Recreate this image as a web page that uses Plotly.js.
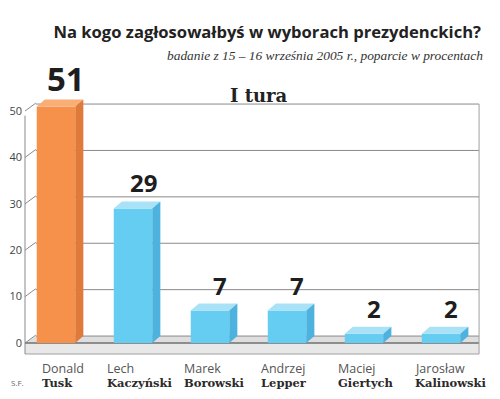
<!DOCTYPE html>
<html>
<head>
<meta charset="utf-8">
<script src="https://cdn.plot.ly/plotly-3.0.1.min.js"></script>
<style>html,body{margin:0;padding:0;background:#fff;}#chart{width:500px;height:399px;}</style>
</head>
<body>
<div id="chart"></div>
<script>
// ---- data ----
const firstNames = ["Donald", "Lech", "Marek", "Andrzej", "Maciej", "Jarosław"];
const lastNames = ["Tusk", "Kaczyński", "Borowski", "Lepper", "Giertych", "Kalinowski"];
const support = [51, 29, 7, 7, 2, 2];
const yTicks = [0, 10, 20, 30, 40, 50];
const titleText = "Na kogo zagłosowałbyś w wyborach prezydenckich?";
const subtitleText = "badanie z 15 – 16 września 2005 r., poparcie w procentach";
const roundText = "I tura";
const sourceText = "S.F.";

// ---- style ----
const barW = 0.5;          // bar width in category units
const dx = 0.105;          // depth offset (x, category units)
const dy = 1.5;            // depth offset (y, data units)
const axDx = 0.14, axDy = 1.7;
const xLeft = -0.4026, xRight = 5.494;
const floorBottom = -2.37;
const colors = {
  hi:   {front: "#F6914C", top: "#F9AE76", side: "#E07A3A"},
  base: {front: "#66CDF2", top: "#A9E1F6", side: "#4DB2DD"}
};
const xs = support.map((_, i) => i);
const pal = support.map((v, i) => v === Math.max(...support) ? colors.hi : colors.base);

const traces = [];
traces.push({
  type: "bar", x: xs, y: support, width: barW,
  marker: {color: pal.map(p => p.front), line: {width: 0}},
  hoverinfo: "skip", showlegend: false
});
xs.forEach((x, i) => {
  const v = support[i], l = x - barW / 2, r = x + barW / 2;
  traces.push({
    type: "scatter", mode: "lines", fill: "toself", fillcolor: pal[i].top,
    line: {width: 0, color: pal[i].top},
    x: [l, r, r + dx, l + dx, l], y: [v, v, v + dy, v + dy, v],
    hoverinfo: "skip", showlegend: false
  });
  traces.push({
    type: "scatter", mode: "lines", fill: "toself", fillcolor: pal[i].side,
    line: {width: 0, color: pal[i].side},
    x: [r, r + dx, r + dx, r, r], y: [0, dy, v + dy, v, 0],
    hoverinfo: "skip", showlegend: false
  });
});

const shapes = [];
// floor top
shapes.push({type: "path", layer: "below", xref: "x", yref: "y",
  path: `M${xLeft},0 L${xRight},0 L${xRight},${dy} L${xLeft + axDx},${dy} Z`,
  fillcolor: "#DEDEDE", line: {width: 0}});
// floor front
shapes.push({type: "rect", layer: "below", xref: "x", yref: "y",
  x0: xLeft, x1: xRight, y0: floorBottom, y1: 0,
  fillcolor: "#E8E8E8", line: {width: 0}});
// back gridlines + diagonal ticks
yTicks.forEach(t => {
  shapes.push({type: "line", layer: "below", xref: "x", yref: "y",
    x0: xLeft + axDx, x1: xRight, y0: t + dy, y1: t + dy,
    line: {color: "#8A8A8A", width: 1}});
  shapes.push({type: "line", layer: "below", xref: "x", yref: "y",
    x0: xLeft, x1: xLeft + axDx, y0: t, y1: t + axDy,
    line: {color: "#8A8A8A", width: 1}});
});
// floor front edge
shapes.push({type: "line", layer: "below", xref: "x", yref: "y",
  x0: xLeft, x1: xRight, y0: 0, y1: 0, line: {color: "#707070", width: 1.5}});
// floor bottom edge
shapes.push({type: "line", layer: "below", xref: "x", yref: "y",
  x0: xLeft, x1: xRight, y0: floorBottom, y1: floorBottom, line: {color: "#A0A0A0", width: 1}});
// front axis line
shapes.push({type: "line", layer: "below", xref: "x", yref: "y",
  x0: xLeft, x1: xLeft, y0: floorBottom, y1: Math.max(...yTicks) - 1,
  line: {color: "#8A8A8A", width: 1}});
// right edge
shapes.push({type: "line", layer: "below", xref: "x", yref: "y",
  x0: xRight, x1: xRight, y0: floorBottom, y1: Math.max(...yTicks) + dy,
  line: {color: "#A0A0A0", width: 1}});

const annotations = [];
support.forEach((v, i) => {
  const big = v === Math.max(...support);
  annotations.push({
    xref: "x", yref: "y", x: xs[i] + 0.13, y: v + dy, yanchor: "bottom", xanchor: "center",
    text: String(v), showarrow: false, yshift: big ? -4 : 0,
    font: {family: "Open Sans, Lato, sans-serif", size: big ? 33 : 24, color: "#1E1E1E", weight: 700}
  });
  const lx = Math.max(xs[i] - 0.37, xLeft + 0.2);
  annotations.push({
    xref: "x", yref: "paper", x: lx, y: 0, xanchor: "left", yanchor: "middle",
    yshift: -12.5, text: firstNames[i], showarrow: false,
    font: {family: "Open Sans, sans-serif", size: 12.5, color: "#555"}
  });
  annotations.push({
    xref: "x", yref: "paper", x: lx, y: 0, xanchor: "left", yanchor: "middle",
    yshift: -26.5, text: "<b>" + lastNames[i] + "</b>", showarrow: false,
    font: {family: "DejaVu Serif, serif", size: 11.5, color: "#2A2A2A"}
  });
});
annotations.push({
  xref: "paper", yref: "paper", x: 1, xanchor: "right", xshift: 4, y: 1, yanchor: "middle", yshift: 15,
  text: "<i>" + subtitleText + "</i>", showarrow: false,
  font: {family: "Liberation Serif, serif", size: 13.4, color: "#333"}
});
annotations.push({
  xref: "paper", yref: "paper", x: 0.515, xanchor: "center", y: 1, yanchor: "middle", yshift: -25,
  text: "<b>" + roundText + "</b>", showarrow: false,
  font: {family: "DejaVu Serif, serif", size: 18, color: "#222"}
});
annotations.push({
  xref: "paper", yref: "paper", x: 0, xanchor: "left", xshift: -14, y: 0, yanchor: "middle", yshift: -26,
  text: sourceText, showarrow: false,
  font: {family: "Open Sans, sans-serif", size: 8, color: "#666"}
});

const layout = {
  width: 500, height: 399,
  margin: {l: 23, r: 19, t: 70, b: 43, pad: 0},
  paper_bgcolor: "#fff", plot_bgcolor: "#fff",
  showlegend: false,
  title: {
    text: "<b>" + titleText + "</b>", xref: "paper", x: 1, xanchor: "right",
    y: 1 - 32 / 399, yanchor: "middle",
    font: {family: "Open Sans, sans-serif", size: 16.6, color: "#222"}
  },
  xaxis: {range: [-0.4286, 5.519], visible: false, fixedrange: true},
  yaxis: {
    range: [-2.80, 58.84], tickvals: yTicks, ticktext: yTicks.map(String),
    showgrid: false, zeroline: false, showline: false, ticks: "",
    tickfont: {family: "Open Sans, sans-serif", size: 11, color: "#444"}, fixedrange: true
  },
  shapes: shapes,
  annotations: annotations
};

Plotly.newPlot("chart", traces, layout, {displayModeBar: false, staticPlot: true});
</script>
</body>
</html>
